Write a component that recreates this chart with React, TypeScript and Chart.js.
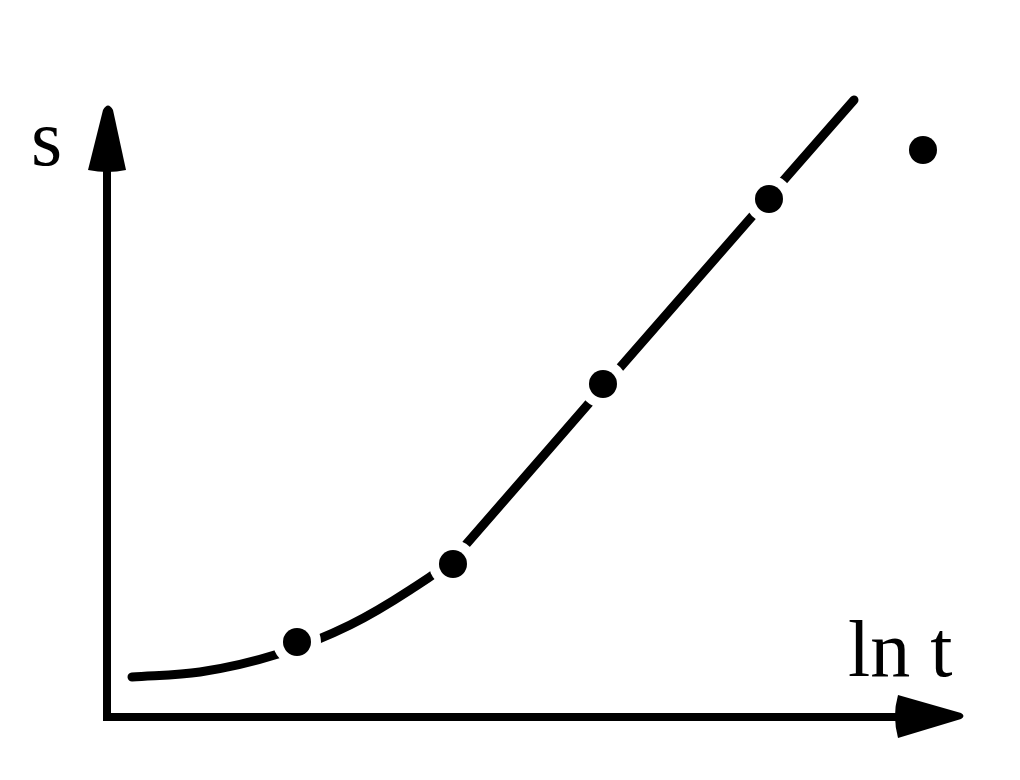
import React, { useEffect, useRef } from "react";
import { Chart, registerables } from "chart.js";

Chart.register(...registerables);

// Curve s(ln t): schematic values, origin of the axes at (0, 0)
const curveX = [0.25, 0.93, 1.71, 2.43, 3.03, 3.46, 3.62, 4.96, 6.62, 7.47];
const curveY = [0.4, 0.45, 0.63, 0.92, 1.27, 1.58, 1.76, 3.3, 5.2, 6.17];

// Measured points sitting on the curve
const dotX = [1.9, 3.46, 4.96, 6.62];
const dotY = [0.75, 1.53, 3.33, 5.18];

// Outlying point
const loneX = [8.16];
const loneY = [5.67];

// Axes (in data units)
const xAxisX = [0, 7.95];
const xAxisY = [0, 0];
const yAxisX = [0, 0];
const yAxisY = [0, 5.6];
const xArrowTip = [8.57, 0.01];
const yArrowTip = [0.01, 6.13];

// Axis labels
const labelText = ["s", "ln t"];
const labelX = [-0.76, 7.41];
const labelY = [5.52, 0.41];

const pts = (xs: number[], ys: number[]) => xs.map((x, i) => ({ x, y: ys[i] }));

const decorPlugin = {
  id: "decor",
  afterDatasetsDraw(chart: any) {
    const { ctx, scales } = chart;
    const sx = scales.x;
    const sy = scales.y;
    ctx.save();
    ctx.fillStyle = "#000";
    // y-axis arrowhead
    {
      const tx = sx.getPixelForValue(yArrowTip[0]);
      const ty = sy.getPixelForValue(yArrowTip[1]);
      ctx.beginPath();
      ctx.moveTo(tx - 20, ty + 66);
      ctx.lineTo(tx - 5, ty + 6);
      ctx.quadraticCurveTo(tx, ty - 3, tx + 5, ty + 6);
      ctx.lineTo(tx + 18, ty + 66);
      ctx.quadraticCurveTo(tx, ty + 70, tx - 20, ty + 66);
      ctx.closePath();
      ctx.fill();
    }
    // x-axis arrowhead
    {
      const tx = sx.getPixelForValue(xArrowTip[0]);
      const ty = sy.getPixelForValue(xArrowTip[1]);
      ctx.beginPath();
      ctx.moveTo(tx - 66, ty - 21);
      ctx.lineTo(tx - 3, ty - 3);
      ctx.quadraticCurveTo(tx + 2, ty, tx - 3, ty + 3);
      ctx.lineTo(tx - 66, ty + 22);
      ctx.quadraticCurveTo(tx - 72, ty, tx - 66, ty - 21);
      ctx.closePath();
      ctx.fill();
    }
    // labels
    ctx.font = '80px "Liberation Serif", "Times New Roman", serif';
    ctx.textBaseline = "alphabetic";
    ctx.textAlign = "left";
    labelText.forEach((t, i) => {
      ctx.fillText(t, sx.getPixelForValue(labelX[i]), sy.getPixelForValue(labelY[i]));
    });
    ctx.restore();
  },
};

export default function App() {
  const canvasRef = useRef<HTMLCanvasElement | null>(null);

  useEffect(() => {
    document.body.style.margin = "0";
    document.body.style.background = "#fff";
    const canvas = canvasRef.current;
    if (!canvas) return;
    const chart = new Chart(canvas, {
      type: "line",
      data: {
        datasets: [
          {
            label: "x-axis",
            data: pts(xAxisX, xAxisY),
            borderColor: "#000",
            borderWidth: 8,
            borderCapStyle: "square",
            pointRadius: 0,
            showLine: true,
            order: 6,
            clip: false,
          } as any,
          {
            label: "y-axis",
            data: pts(yAxisX, yAxisY),
            borderColor: "#000",
            borderWidth: 8,
            borderCapStyle: "square",
            pointRadius: 0,
            showLine: true,
            order: 5,
            clip: false,
          } as any,
          {
            label: "curve",
            data: pts(curveX, curveY),
            borderColor: "#000",
            borderWidth: 9,
            borderCapStyle: "round",
            cubicInterpolationMode: "monotone",
            pointRadius: 0,
            showLine: true,
            order: 4,
            clip: false,
          } as any,
          {
            label: "gaps",
            data: pts(dotX, dotY),
            showLine: false,
            pointRadius: 24,
            pointBackgroundColor: "#fff",
            pointBorderWidth: 0,
            pointBorderColor: "#fff",
            order: 3,
            clip: false,
          } as any,
          {
            label: "points",
            data: pts(dotX, dotY),
            showLine: false,
            pointRadius: 14,
            pointBackgroundColor: "#000",
            pointBorderWidth: 0,
            order: 2,
            clip: false,
          } as any,
          {
            label: "outlier",
            data: pts(loneX, loneY),
            showLine: false,
            pointRadius: 14,
            pointBackgroundColor: "#000",
            pointBorderWidth: 0,
            order: 1,
            clip: false,
          } as any,
        ],
      },
      options: {
        animation: false,
        responsive: false,
        devicePixelRatio: 1,
        events: [],
        layout: { padding: 0, autoPadding: false },
        plugins: {
          legend: { display: false },
          tooltip: { enabled: false },
        },
        scales: {
          x: { type: "linear", display: false, min: -1.07, max: 9.13 },
          y: { type: "linear", display: false, min: -0.63, max: 7.17 },
        },
      } as any,
      plugins: [decorPlugin],
    });
    return () => chart.destroy();
  }, []);

  return (
    <div style={{ width: 1020, height: 780, background: "#fff" }}>
      <canvas ref={canvasRef} width={1020} height={780} />
    </div>
  );
}
